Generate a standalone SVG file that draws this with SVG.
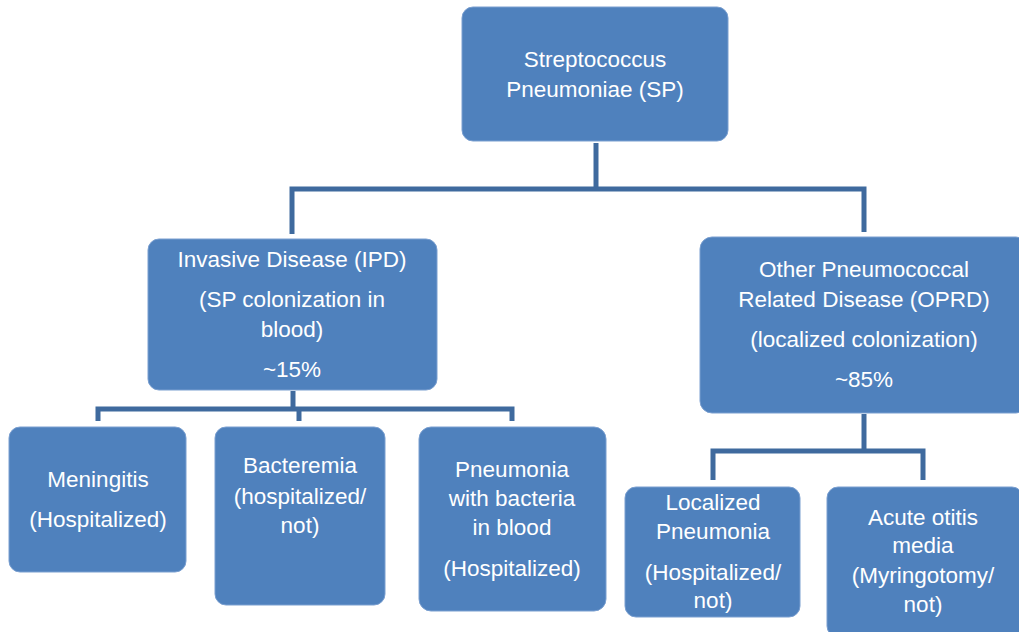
<svg xmlns="http://www.w3.org/2000/svg" width="1019" height="632" viewBox="0 0 1019 632">
<style>
.box{fill:#4f81bd;stroke:#7a9fd0;stroke-width:1}
.t{font-family:"Liberation Sans","Open Sans",sans-serif;font-size:22.5px;fill:#ffffff;text-anchor:middle}
.c{fill:none;stroke:#3f6a9e;stroke-width:5;stroke-linejoin:miter;stroke-linecap:butt}
</style>
<rect width="1019" height="632" fill="#ffffff"/>
<g id="connectors">
<path class="c" d="M596 143 V189"/>
<path class="c" d="M292 234 V189 H864 V232"/>
<path class="c" d="M293 391 V409"/>
<path class="c" d="M98 421 V409 H512 V421"/>
<path class="c" d="M299 409 V421"/>
<path class="c" d="M864 414 V451"/>
<path class="c" d="M713 480 V451 H923 V480"/>
</g>
<g id="sp">
<rect class="box" x="462" y="7" width="266" height="134" rx="11"/>
<text class="t" x="595" y="67">Streptococcus</text>
<text class="t" x="595" y="97">Pneumoniae (SP)</text>
</g>
<g id="ipd">
<rect class="box" x="148" y="239" width="289" height="151" rx="11"/>
<text class="t" x="292" y="267">Invasive Disease (IPD)</text>
<text class="t" x="292" y="307">(SP colonization in</text>
<text class="t" x="292" y="337">blood)</text>
<text class="t" x="292" y="377">~15%</text>
</g>
<g id="oprd">
<rect class="box" x="700" y="237" width="328" height="176" rx="12"/>
<text class="t" x="864" y="277">Other Pneumococcal</text>
<text class="t" x="864" y="307">Related Disease (OPRD)</text>
<text class="t" x="864" y="347">(localized colonization)</text>
<text class="t" x="864" y="387">~85%</text>
</g>
<g id="meningitis">
<rect class="box" x="9" y="427" width="177" height="145" rx="11"/>
<text class="t" x="98" y="487">Meningitis</text>
<text class="t" x="98" y="527">(Hospitalized)</text>
</g>
<g id="bacteremia">
<rect class="box" x="215" y="427" width="170" height="178" rx="11"/>
<text class="t" x="300" y="473">Bacteremia</text>
<text class="t" x="300" y="504">(hospitalized/</text>
<text class="t" x="300" y="533">not)</text>
</g>
<g id="pneumonia-blood">
<rect class="box" x="419" y="427" width="187" height="184" rx="12"/>
<text class="t" x="512" y="477">Pneumonia</text>
<text class="t" x="512" y="506">with bacteria</text>
<text class="t" x="512" y="535">in blood</text>
<text class="t" x="512" y="576">(Hospitalized)</text>
</g>
<g id="localized-pneumonia">
<rect class="box" x="625" y="487" width="175" height="130" rx="11"/>
<text class="t" x="713" y="510">Localized</text>
<text class="t" x="713" y="539">Pneumonia</text>
<text class="t" x="713" y="580">(Hospitalized/</text>
<text class="t" x="713" y="608">not)</text>
</g>
<g id="otitis">
<rect class="box" x="827" y="487" width="196" height="150" rx="11"/>
<text class="t" x="923" y="525">Acute otitis</text>
<text class="t" x="923" y="553">media</text>
<text class="t" x="923" y="583">(Myringotomy/</text>
<text class="t" x="923" y="612">not)</text>
</g>
</svg>
